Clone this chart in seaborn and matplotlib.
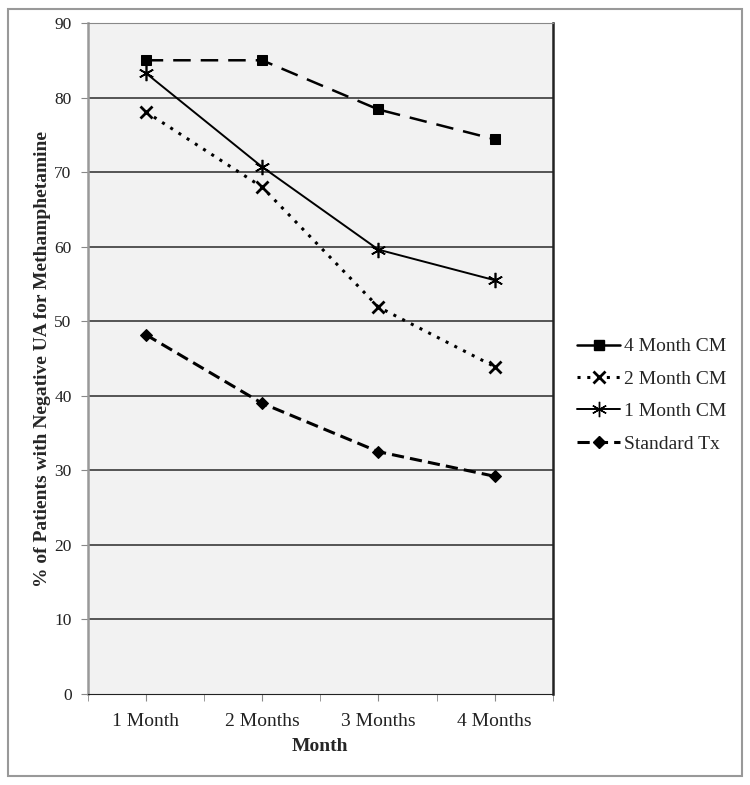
import matplotlib
matplotlib.use('Agg')
import matplotlib.pyplot as plt
from matplotlib.lines import Line2D
from matplotlib.patches import Rectangle
import pandas as pd
import seaborn as sns

months = ['1 Month', '2 Months', '3 Months', '4 Months']
series_names = ['4 Month CM', '2 Month CM', '1 Month CM', 'Standard Tx']
cm4 = [85.0, 85.0, 78.4, 74.4]
cm2 = [78.1, 68.0, 51.9, 43.9]
cm1 = [83.3, 70.7, 59.6, 55.5]
std_tx = [48.2, 39.0, 32.5, 29.2]
y_ticks = list(range(0, 91, 10))

rows = []
for name, vals in zip(series_names, [cm4, cm2, cm1, std_tx]):
    for m, v in zip(months, vals):
        rows.append({'Month': m, 'pct': v, 'group': name})
df = pd.DataFrame(rows)

sns.set_style('white')
plt.rcParams['font.family'] = ['Liberation Serif', 'DejaVu Serif']

fig = plt.figure(figsize=(7.5, 7.85), dpi=100)
ax = fig.add_axes([0.1167, 0.1159, 0.6206, 0.8548])
ax.set_facecolor('#f2f2f2')

# each series has its own look
looks = {
    '4 Month CM': dict(marker='s', markersize=7, dashes=(7, 4), linewidth=1.8),
    '2 Month CM': dict(marker='x', markersize=9, markeredgewidth=2, dashes=(1, 2.2), linewidth=2.2),
    '1 Month CM': dict(marker=(6, 2, 0), markersize=11, markeredgewidth=1.2, dashes=(None, None), linewidth=1.4),
    'Standard Tx': dict(marker='D', markersize=6, dashes=(4, 2), linewidth=2.2),
}
for name in series_names:
    sub = df[df['group'] == name]
    kw = dict(looks[name])
    d = kw.pop('dashes')
    sns.lineplot(data=sub, x='Month', y='pct', ax=ax, color='black',
                 markeredgecolor='black', markerfacecolor='black', **kw)
    ln = ax.lines[-1]
    if d[0] is not None:
        ln.set_dashes(d)

ax.set_xlim(-0.5, 3.5)
ax.set_ylim(0, 90)
ax.set_yticks(y_ticks)
ax.set_xticks(range(len(months)))
ax.set_xticklabels(months)
ax.set_xticks([-0.5, 0.5, 1.5, 2.5, 3.5], minor=True)
for y in y_ticks[1:]:
    ax.axhline(y, color='#2a2a2a', linewidth=1.1, zorder=0.5)

ax.tick_params(axis='both', which='both', direction='out', length=5, color='#888888',
               left=True, bottom=True, labelcolor='#222222')
ax.tick_params(axis='x', pad=9, labelsize=14)
ax.tick_params(axis='y', pad=6.5, labelsize=12.5)
ax.spines['bottom'].set_color('#222222')
ax.spines['right'].set_color('#222222')
ax.spines['right'].set_linewidth(1.8)
ax.spines['left'].set_color('#999999')
ax.spines['left'].set_linewidth(1.8)
ax.spines['top'].set_color('#888888')

ax.set_xlabel('Month', fontsize=14, fontweight='bold', labelpad=5.5)
ax.set_ylabel('% of Patients with Negative UA for Methamphetamine', fontsize=14,
              fontweight='bold', labelpad=2.5)

# legend handles as drawn in the original (4 Month CM shows solid there)
handles = [
    Line2D([], [], color='black', marker='s', markersize=7, linewidth=1.8),
    Line2D([], [], color='black', marker='x', markersize=9, markeredgewidth=2,
           linewidth=2.2, dashes=(1, 2.2)),
    Line2D([], [], color='black', marker=(6, 2, 0), markersize=11, linewidth=1.4),
    Line2D([], [], color='black', marker='D', markersize=6, linewidth=2.2, dashes=(4, 2)),
]
if ax.get_legend() is not None:
    ax.get_legend().remove()
fig.legend(handles, series_names, loc='upper left', bbox_to_anchor=(0.762, 0.577),
           frameon=False, fontsize=14, handlelength=2.2, handletextpad=0.2,
           labelspacing=0.76, borderaxespad=0, borderpad=0.3)

fig.patches.append(Rectangle((0.011, 0.012), 0.978, 0.977, transform=fig.transFigure,
                             fill=False, edgecolor='#999999', linewidth=1.5))

fig.savefig('out.png', dpi=100)
